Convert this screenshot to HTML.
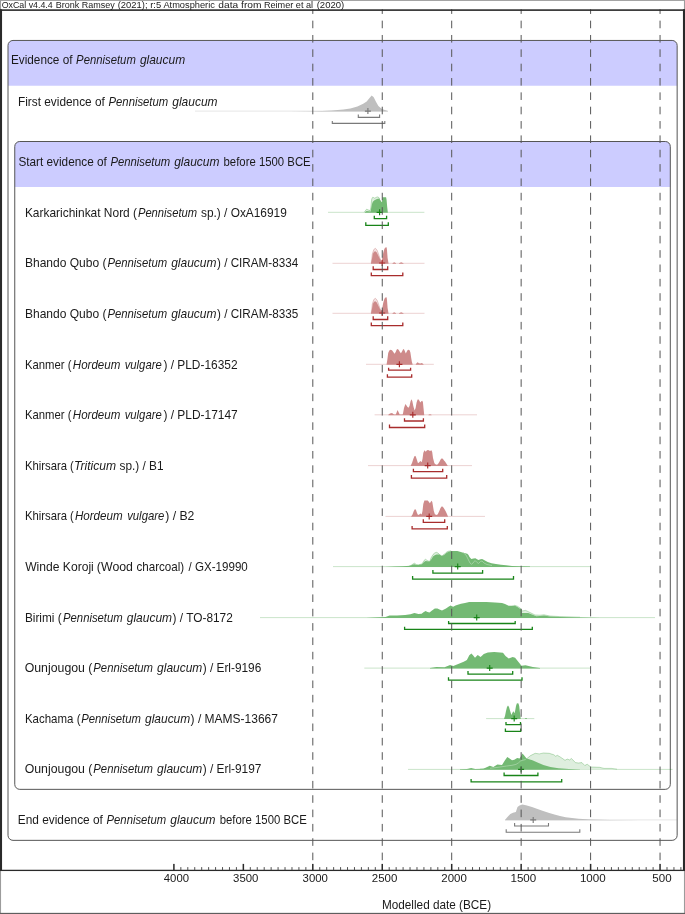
<!DOCTYPE html>
<html><head><meta charset="utf-8"><title>OxCal plot</title>
<style>html,body{margin:0;padding:0;background:#fff;overflow:hidden;width:685px;height:914px;}svg{display:block;will-change:transform;}text{font-family:"Liberation Sans",sans-serif;}</style>
</head><body>
<svg width="685" height="914" viewBox="0 0 685 914">
<rect x="0" y="0" width="685" height="914" fill="#fff"/>
<path d="M13.0,40.45 H672.15 A5,5 0 0 1 677.15,45.45 V85.75 H8.0 V45.45 A5,5 0 0 1 13.0,40.45 Z" fill="#ccccff"/>
<path d="M13.0,40.45 H672.15 A5,5 0 0 1 677.15,45.45 V835.35 A5,5 0 0 1 672.15,840.35 H13.0 A5,5 0 0 1 8.0,835.35 V45.45 A5,5 0 0 1 13.0,40.45 Z" fill="none" stroke="#555555" stroke-width="1"/>
<path d="M19.75,141.5 H665.3 A5,5 0 0 1 670.3,146.5 V186.95 H14.75 V146.5 A5,5 0 0 1 19.75,141.5 Z" fill="#ccccff"/>
<path d="M19.75,141.5 H665.3 A5,5 0 0 1 670.3,146.5 V784.35 A5,5 0 0 1 665.3,789.35 H19.75 A5,5 0 0 1 14.75,784.35 V146.5 A5,5 0 0 1 19.75,141.5 Z" fill="none" stroke="#555555" stroke-width="1"/>
<g>
<line x1="195.0" y1="111.10" x2="388.0" y2="111.10" stroke="rgb(139,139,139)" stroke-opacity="0.24" stroke-width="0.9"/>
<path d="M290.0,111.5 L290.0,111.5 L310.0,111.2 L322.0,110.9 L331.7,110.4 L343.4,109.6 L350.4,108.4 L357.4,106.5 L363.2,103.8 L366.7,101.4 L369.1,98.5 L371.7,95.6 L373.7,97.3 L376.1,102.0 L378.4,106.1 L381.9,109.0 L387.8,111.1 L387.8,111.5 Z" fill="rgb(191,191,191)"/>
<path d="M358.3,114.6 V117.4 H379.6 V114.6" fill="none" stroke="rgb(122,122,122)" stroke-width="1.1"/>
<path d="M332.3,120.9 V123.4 H384.8 V120.9" fill="none" stroke="rgb(122,122,122)" stroke-width="1.1"/>
<path d="M364.9,111.1 H370.9 M367.9,108.1 V114.1" fill="none" stroke="rgb(122,122,122)" stroke-width="1.15"/>
</g>
<g>
<line x1="328.0" y1="212.30" x2="424.4" y2="212.30" stroke="rgb(0,128,0)" stroke-opacity="0.24" stroke-width="0.9"/>
<path d="M364.3,212.3 L364.3,212.2 L365.5,210.5 L366.6,209.2 L368.0,209.8 L370.0,210.7 L370.8,208.0 L371.5,200.0 L372.2,197.8 L372.8,197.2 L374.8,198.2 L376.2,197.3 L377.6,196.9 L378.6,197.3 L379.4,198.2 L379.6,199.0 L379.6,212.3 Z" fill="rgb(222,238,222)"/>
<path d="M364.3,212.2 L365.5,210.5 L366.6,209.2 L368.0,209.8 L370.0,210.7 L370.8,208.0 L371.5,200.0 L372.2,197.8 L372.8,197.2 L374.8,198.2 L376.2,197.3 L377.6,196.9 L378.6,197.3 L379.4,198.2 L379.6,199.0" fill="none" stroke="rgb(0,128,0)" stroke-opacity="0.3" stroke-width="0.8"/>
<path d="M364.8,212.7 L364.8,212.2 L366.6,211.0 L368.5,211.3 L370.6,211.5 L371.2,208.0 L372.0,204.0 L372.8,201.8 L374.5,200.3 L376.9,198.9 L379.2,198.4 L380.3,200.0 L381.7,202.3 L382.2,201.0 L382.4,197.2 L386.1,197.2 L386.6,200.0 L387.2,207.0 L387.8,212.2 L387.8,212.7 Z" fill="rgb(115,185,115)"/>
<path d="M374.3,215.7 V218.7 H386.6 V215.7" fill="none" stroke="rgb(24,132,24)" stroke-width="1.3"/>
<path d="M365.8,222.2 V225.3 H388.3 V222.2" fill="none" stroke="rgb(24,132,24)" stroke-width="1.3"/>
<path d="M376.6,212.3 H382.6 M379.6,209.3 V215.3" fill="none" stroke="rgb(24,132,24)" stroke-width="1.15"/>
</g>
<g>
<line x1="332.5" y1="263.30" x2="424.5" y2="263.30" stroke="rgb(165,42,42)" stroke-opacity="0.24" stroke-width="0.9"/>
<path d="M371.3,263.3 L371.3,263.0 L372.3,254.0 L373.8,249.5 L375.4,248.3 L377.0,250.0 L378.5,254.0 L380.0,258.5 L381.5,261.4 L381.5,263.3 Z" fill="rgb(243,227,227)"/>
<path d="M371.3,263.0 L372.3,254.0 L373.8,249.5 L375.4,248.3 L377.0,250.0 L378.5,254.0 L380.0,258.5 L381.5,261.4" fill="none" stroke="rgb(165,42,42)" stroke-opacity="0.3" stroke-width="0.8"/>
<path d="M371.0,263.7 L371.0,263.3 L371.8,260.0 L372.8,254.0 L374.0,251.8 L375.4,251.3 L376.8,252.5 L378.0,255.0 L379.5,258.0 L380.8,260.5 L381.5,261.4 L382.3,258.0 L383.2,253.0 L384.2,249.5 L385.0,247.8 L386.6,247.2 L387.0,250.0 L387.6,258.0 L388.5,263.3 L388.5,263.7 Z" fill="rgb(206,138,138)"/>
<path d="M392.5,263.7 L392.5,263.3 L394.2,262.2 L396.0,263.3 L396.0,263.7 Z" fill="rgb(206,138,138)"/>
<path d="M399.0,263.7 L399.0,263.3 L401.2,262.3 L403.5,263.3 L403.5,263.7 Z" fill="rgb(206,138,138)"/>
<path d="M373.2,266.2 V269.5 H387.7 V266.2" fill="none" stroke="rgb(168,44,44)" stroke-width="1.3"/>
<path d="M371.3,272.6 V275.6 H402.8 V272.6" fill="none" stroke="rgb(168,44,44)" stroke-width="1.3"/>
<path d="M379.2,263.0 H385.2 M382.2,260.0 V266.0" fill="none" stroke="rgb(168,44,44)" stroke-width="1.15"/>
</g>
<g>
<line x1="332.5" y1="313.30" x2="424.5" y2="313.30" stroke="rgb(165,42,42)" stroke-opacity="0.24" stroke-width="0.9"/>
<path d="M371.3,313.3 L371.3,313.0 L372.3,304.0 L373.8,299.5 L375.4,298.3 L377.0,300.0 L378.5,304.0 L380.0,308.5 L381.5,311.4 L381.5,313.3 Z" fill="rgb(243,227,227)"/>
<path d="M371.3,313.0 L372.3,304.0 L373.8,299.5 L375.4,298.3 L377.0,300.0 L378.5,304.0 L380.0,308.5 L381.5,311.4" fill="none" stroke="rgb(165,42,42)" stroke-opacity="0.3" stroke-width="0.8"/>
<path d="M371.0,313.7 L371.0,313.3 L371.8,310.0 L372.8,304.0 L374.0,301.8 L375.4,301.3 L376.8,302.5 L378.0,305.0 L379.5,308.0 L380.8,310.5 L381.5,311.4 L382.3,308.0 L383.2,303.0 L384.2,299.5 L385.0,297.8 L386.6,297.2 L387.0,300.0 L387.6,308.0 L388.5,313.3 L388.5,313.7 Z" fill="rgb(206,138,138)"/>
<path d="M392.5,313.7 L392.5,313.3 L394.2,312.2 L396.0,313.3 L396.0,313.7 Z" fill="rgb(206,138,138)"/>
<path d="M399.0,313.7 L399.0,313.3 L401.2,312.3 L403.5,313.3 L403.5,313.7 Z" fill="rgb(206,138,138)"/>
<path d="M373.2,316.2 V319.5 H387.7 V316.2" fill="none" stroke="rgb(168,44,44)" stroke-width="1.3"/>
<path d="M371.3,322.6 V325.6 H402.8 V322.6" fill="none" stroke="rgb(168,44,44)" stroke-width="1.3"/>
<path d="M379.2,313.0 H385.2 M382.2,310.0 V316.0" fill="none" stroke="rgb(168,44,44)" stroke-width="1.15"/>
</g>
<g>
<line x1="366.0" y1="364.30" x2="433.8" y2="364.30" stroke="rgb(165,42,42)" stroke-opacity="0.24" stroke-width="0.9"/>
<path d="M386.6,364.7 L386.6,364.3 L387.3,360.0 L388.2,353.0 L389.3,350.5 L390.6,349.7 L392.0,350.3 L393.3,352.0 L394.5,353.8 L395.7,352.0 L396.6,349.8 L397.4,349.1 L398.6,349.8 L399.8,351.8 L400.9,353.2 L402.0,351.5 L403.0,349.5 L403.8,349.1 L404.8,351.0 L405.8,353.5 L406.8,351.5 L407.7,350.0 L408.5,349.7 L409.6,350.2 L410.4,352.5 L411.2,358.0 L411.9,362.0 L412.6,364.3 L412.6,364.7 Z" fill="rgb(206,138,138)"/>
<path d="M415.8,364.7 L415.8,364.3 L417.0,362.8 L417.8,362.2 L418.8,363.2 L420.5,363.5 L421.9,363.0 L423.5,364.3 L423.5,364.7 Z" fill="rgb(206,138,138)"/>
<path d="M388.6,367.8 V370.1 H410.6 V367.8" fill="none" stroke="rgb(168,44,44)" stroke-width="1.3"/>
<path d="M387.4,374.2 V377.1 H411.7 V374.2" fill="none" stroke="rgb(168,44,44)" stroke-width="1.3"/>
<path d="M396.4,364.3 H402.4 M399.4,361.3 V367.3" fill="none" stroke="rgb(168,44,44)" stroke-width="1.15"/>
</g>
<g>
<line x1="374.6" y1="414.80" x2="477.0" y2="414.80" stroke="rgb(165,42,42)" stroke-opacity="0.24" stroke-width="0.9"/>
<path d="M388.3,415.2 L388.3,414.8 L390.0,413.6 L392.0,413.1 L394.0,414.4 L395.8,414.6 L396.6,412.5 L397.5,410.0 L398.5,412.0 L399.7,414.6 L402.6,414.6 L403.0,413.5 L404.0,408.0 L405.4,403.9 L406.5,405.5 L407.5,407.0 L408.5,407.8 L409.5,406.0 L410.5,401.5 L411.4,399.3 L412.3,401.0 L413.3,406.0 L414.6,410.5 L415.6,408.0 L416.6,402.5 L417.5,399.8 L418.1,399.3 L419.0,400.0 L420.3,402.6 L421.3,401.2 L422.2,400.8 L422.9,402.0 L423.5,408.0 L424.2,414.8 L424.2,415.2 Z" fill="rgb(206,138,138)"/>
<path d="M428.5,415.2 L428.5,414.8 L430.0,414.2 L431.5,414.8 L431.5,415.2 Z" fill="rgb(206,138,138)"/>
<path d="M404.5,418.3 V421.0 H423.4 V418.3" fill="none" stroke="rgb(168,44,44)" stroke-width="1.3"/>
<path d="M389.5,424.5 V427.5 H424.7 V424.5" fill="none" stroke="rgb(168,44,44)" stroke-width="1.3"/>
<path d="M409.8,414.8 H415.8 M412.8,411.8 V417.8" fill="none" stroke="rgb(168,44,44)" stroke-width="1.15"/>
</g>
<g>
<line x1="368.0" y1="465.60" x2="472.0" y2="465.60" stroke="rgb(165,42,42)" stroke-opacity="0.24" stroke-width="0.9"/>
<path d="M410.8,466.0 L410.8,465.6 L412.0,463.0 L413.3,459.0 L414.3,456.5 L415.0,455.8 L415.8,456.5 L416.8,459.5 L418.0,463.2 L419.2,462.3 L420.4,461.0 L421.2,461.8 L421.7,462.3 L422.5,459.0 L423.3,453.0 L424.4,450.3 L425.7,451.8 L427.0,450.3 L428.1,450.0 L429.2,450.6 L430.0,451.0 L431.4,450.3 L432.2,452.0 L433.0,458.0 L434.4,463.2 L435.8,464.4 L437.0,464.8 L438.0,464.0 L439.3,462.0 L440.6,459.5 L441.9,458.2 L443.0,459.0 L444.0,460.5 L445.0,461.5 L446.3,463.5 L447.6,465.6 L447.6,466.0 Z" fill="rgb(206,138,138)"/>
<path d="M413.4,468.7 V471.7 H442.7 V468.7" fill="none" stroke="rgb(168,44,44)" stroke-width="1.3"/>
<path d="M411.4,475.0 V478.1 H446.7 V475.0" fill="none" stroke="rgb(168,44,44)" stroke-width="1.3"/>
<path d="M424.7,465.6 H430.7 M427.7,462.6 V468.6" fill="none" stroke="rgb(168,44,44)" stroke-width="1.15"/>
</g>
<g>
<line x1="385.5" y1="516.40" x2="485.0" y2="516.40" stroke="rgb(165,42,42)" stroke-opacity="0.24" stroke-width="0.9"/>
<path d="M411.2,516.8 L411.2,516.4 L412.5,514.5 L413.8,511.0 L415.0,509.0 L416.0,510.0 L417.0,513.0 L418.0,515.0 L419.3,514.4 L420.4,513.6 L421.7,514.6 L422.5,511.0 L423.3,504.0 L424.4,500.6 L426.0,500.5 L427.8,500.4 L428.8,501.8 L429.9,503.3 L430.8,501.8 L431.6,500.8 L432.3,502.0 L432.8,505.0 L433.8,511.0 L434.9,514.2 L436.0,514.8 L437.0,515.0 L438.0,513.8 L439.3,511.0 L440.5,508.0 L441.9,506.3 L443.0,507.0 L444.2,508.8 L445.4,510.7 L446.5,513.0 L448.0,516.4 L448.0,516.8 Z" fill="rgb(206,138,138)"/>
<path d="M423.3,519.2 V522.4 H444.7 V519.2" fill="none" stroke="rgb(168,44,44)" stroke-width="1.3"/>
<path d="M412.1,525.9 V528.8 H447.3 V525.9" fill="none" stroke="rgb(168,44,44)" stroke-width="1.3"/>
<path d="M426.2,516.4 H432.2 M429.2,513.4 V519.4" fill="none" stroke="rgb(168,44,44)" stroke-width="1.15"/>
</g>
<g>
<line x1="333.0" y1="566.60" x2="590.5" y2="566.60" stroke="rgb(0,128,0)" stroke-opacity="0.24" stroke-width="0.9"/>
<path d="M409.0,566.6 L409.0,566.2 L411.5,565.0 L414.3,563.2 L416.5,564.5 L418.4,564.8 L420.5,564.3 L422.0,564.0 L424.0,560.5 L425.5,559.3 L427.3,560.5 L429.6,561.5 L431.0,558.0 L433.0,554.5 L434.7,553.0 L436.3,552.3 L438.0,553.0 L439.3,554.3 L441.9,556.1 L444.0,554.5 L446.0,552.5 L448.0,551.3 L451.1,550.8 L451.1,566.6 Z" fill="rgb(222,238,222)"/>
<path d="M409.0,566.2 L411.5,565.0 L414.3,563.2 L416.5,564.5 L418.4,564.8 L420.5,564.3 L422.0,564.0 L424.0,560.5 L425.5,559.3 L427.3,560.5 L429.6,561.5 L431.0,558.0 L433.0,554.5 L434.7,553.0 L436.3,552.3 L438.0,553.0 L439.3,554.3 L441.9,556.1 L444.0,554.5 L446.0,552.5 L448.0,551.3 L451.1,550.8" fill="none" stroke="rgb(0,128,0)" stroke-opacity="0.3" stroke-width="0.8"/>
<path d="M385.0,567.0 L385.0,567.0 L395.0,566.6 L403.0,566.3 L410.2,565.8 L412.5,564.8 L414.3,564.2 L416.5,564.9 L418.4,565.0 L420.5,564.5 L422.0,564.2 L424.0,562.0 L425.5,561.0 L427.5,561.3 L429.6,561.5 L431.5,559.0 L433.0,556.5 L434.7,555.2 L436.5,554.5 L439.3,554.6 L441.9,556.1 L444.0,555.0 L446.0,553.3 L448.0,552.0 L451.1,551.0 L457.2,551.0 L460.0,551.8 L463.3,552.8 L467.3,553.8 L468.5,555.0 L469.5,557.0 L471.3,558.9 L473.5,558.4 L475.4,558.2 L477.0,559.2 L478.5,559.9 L480.5,559.2 L482.1,558.9 L484.5,560.3 L487.7,562.0 L491.5,563.2 L495.9,564.0 L501.0,564.8 L506.1,565.3 L512.0,565.9 L518.4,566.3 L530.0,566.6 L530.0,567.0 Z" fill="rgb(115,185,115)"/>
<path d="M463.3,552.8 L466.0,555.0 L468.0,559.0 L470.0,563.0 L471.5,564.3 L473.0,563.0 L475.0,560.5 L476.5,562.0 L478.5,563.5 L480.5,561.5 L482.0,561.0 L484.0,563.0 L487.0,564.5 L492.0,565.5" fill="none" stroke="rgb(163,209,163)" stroke-width="0.9"/>
<path d="M432.9,570.1 V573.2 H482.6 V570.1" fill="none" stroke="rgb(24,132,24)" stroke-width="1.3"/>
<path d="M412.6,576.0 V579.1 H513.5 V576.0" fill="none" stroke="rgb(24,132,24)" stroke-width="1.3"/>
<path d="M454.7,566.6 H460.7 M457.7,563.6 V569.6" fill="none" stroke="rgb(24,132,24)" stroke-width="1.15"/>
</g>
<g>
<line x1="260.0" y1="617.60" x2="655.0" y2="617.60" stroke="rgb(0,128,0)" stroke-opacity="0.24" stroke-width="0.9"/>
<path d="M514.5,617.6 L514.5,605.2 L517.5,606.3 L520.4,608.2 L521.8,611.0 L525.7,610.4 L530.0,612.5 L535.0,615.0 L540.0,615.2 L544.0,614.8 L550.0,616.0 L560.0,616.6 L580.0,617.2 L580.0,617.6 Z" fill="rgb(222,238,222)"/>
<path d="M514.5,605.2 L517.5,606.3 L520.4,608.2 L521.8,611.0 L525.7,610.4 L530.0,612.5 L535.0,615.0 L540.0,615.2 L544.0,614.8 L550.0,616.0 L560.0,616.6 L580.0,617.2" fill="none" stroke="rgb(0,128,0)" stroke-opacity="0.3" stroke-width="0.8"/>
<path d="M366.0,618.0 L366.0,618.0 L375.0,617.4 L385.5,616.9 L389.5,615.6 L397.0,615.4 L405.2,615.0 L410.5,614.3 L414.4,613.0 L416.5,613.6 L418.4,614.0 L421.6,613.7 L423.5,612.3 L425.6,611.0 L427.5,611.9 L429.5,612.6 L432.0,610.5 L434.8,608.4 L437.4,608.4 L439.5,609.5 L442.0,610.4 L444.0,609.5 L446.0,608.4 L448.5,606.8 L450.6,605.5 L452.0,606.3 L453.2,606.8 L455.5,605.5 L457.8,604.7 L461.0,603.8 L465.0,603.1 L469.2,602.1 L486.3,602.1 L495.0,602.4 L502.0,602.9 L505.0,604.0 L508.6,605.8 L511.5,605.7 L514.5,605.5 L517.5,607.0 L520.4,609.0 L521.8,609.8 L521.9,613.0 L528.3,613.0 L532.0,614.5 L536.2,616.3 L540.0,616.0 L544.0,615.6 L550.0,616.5 L560.0,617.0 L580.0,617.4 L600.0,617.9 L600.0,618.0 Z" fill="rgb(115,185,115)"/>
<path d="M448.6,620.9 V623.5 H515.2 V620.9" fill="none" stroke="rgb(24,132,24)" stroke-width="1.3"/>
<path d="M404.6,626.8 V629.4 H532.3 V626.8" fill="none" stroke="rgb(24,132,24)" stroke-width="1.3"/>
<path d="M473.7,617.6 H479.7 M476.7,614.6 V620.6" fill="none" stroke="rgb(24,132,24)" stroke-width="1.15"/>
</g>
<g>
<line x1="364.3" y1="668.10" x2="590.5" y2="668.10" stroke="rgb(0,128,0)" stroke-opacity="0.24" stroke-width="0.9"/>
<path d="M430.0,668.5 L430.0,668.0 L436.4,667.0 L444.5,667.3 L450.1,664.9 L453.3,666.0 L463.7,661.7 L466.9,660.1 L469.3,655.3 L471.4,653.6 L473.0,655.3 L475.0,657.7 L477.7,654.9 L480.6,656.9 L483.8,654.1 L487.8,652.5 L494.2,652.0 L503.0,652.8 L505.5,656.1 L508.7,658.5 L512.7,656.9 L515.1,657.7 L518.3,661.7 L521.5,665.7 L525.5,665.2 L532.8,667.0 L540.0,668.0 L540.0,668.5 Z" fill="rgb(115,185,115)"/>
<path d="M468.0,671.0 V674.2 H512.7 V671.0" fill="none" stroke="rgb(24,132,24)" stroke-width="1.3"/>
<path d="M448.5,677.2 V680.1 H522.0 V677.2" fill="none" stroke="rgb(24,132,24)" stroke-width="1.3"/>
<path d="M486.7,668.1 H492.7 M489.7,665.1 V671.1" fill="none" stroke="rgb(24,132,24)" stroke-width="1.15"/>
</g>
<g>
<line x1="486.1" y1="718.60" x2="534.3" y2="718.60" stroke="rgb(0,128,0)" stroke-opacity="0.24" stroke-width="0.9"/>
<path d="M504.1,719.0 L504.1,718.6 L505.0,716.0 L506.0,711.0 L507.0,707.0 L508.0,705.5 L509.0,707.0 L510.0,710.5 L511.4,715.1 L512.3,713.0 L513.3,711.3 L514.0,712.3 L514.6,713.3 L515.3,710.0 L516.0,706.0 L516.8,703.6 L517.5,703.3 L518.5,703.5 L519.2,706.0 L519.9,712.0 L520.7,718.6 L520.7,719.0 Z" fill="rgb(115,185,115)"/>
<path d="M525.0,719.0 L525.0,718.6 L526.0,718.0 L527.0,718.6 L527.0,719.0 Z" fill="rgb(115,185,115)"/>
<path d="M506.0,722.1 V724.7 H520.5 V722.1" fill="none" stroke="rgb(24,132,24)" stroke-width="1.3"/>
<path d="M505.4,728.5 V731.3 H520.7 V728.5" fill="none" stroke="rgb(24,132,24)" stroke-width="1.3"/>
<path d="M511.2,718.6 H517.2 M514.2,715.6 V721.6" fill="none" stroke="rgb(24,132,24)" stroke-width="1.15"/>
</g>
<g>
<line x1="408.0" y1="769.40" x2="672.6" y2="769.40" stroke="rgb(0,128,0)" stroke-opacity="0.24" stroke-width="0.9"/>
<path d="M480.0,769.4 L480.0,769.2 L490.0,768.3 L498.0,767.3 L506.7,766.0 L512.0,765.3 L516.0,764.4 L518.5,762.8 L520.7,760.9 L523.0,760.2 L525.8,759.5 L530.5,755.6 L535.2,753.3 L539.3,753.9 L543.4,753.0 L549.2,753.3 L553.9,754.8 L555.6,756.2 L557.4,755.3 L560.9,757.4 L565.0,760.3 L567.3,759.1 L569.6,759.9 L571.4,758.5 L575.5,762.6 L578.4,763.0 L581.9,762.6 L584.8,765.5 L587.2,764.2 L590.8,767.0 L599.6,767.3 L604.0,768.4 L611.3,768.4 L617.0,769.2 L617.0,769.4 Z" fill="rgb(222,238,222)"/>
<path d="M480.0,769.2 L490.0,768.3 L498.0,767.3 L506.7,766.0 L512.0,765.3 L516.0,764.4 L518.5,762.8 L520.7,760.9 L523.0,760.2 L525.8,759.5 L530.5,755.6 L535.2,753.3 L539.3,753.9 L543.4,753.0 L549.2,753.3 L553.9,754.8 L555.6,756.2 L557.4,755.3 L560.9,757.4 L565.0,760.3 L567.3,759.1 L569.6,759.9 L571.4,758.5 L575.5,762.6 L578.4,763.0 L581.9,762.6 L584.8,765.5 L587.2,764.2 L590.8,767.0 L599.6,767.3 L604.0,768.4 L611.3,768.4 L617.0,769.2" fill="none" stroke="rgb(0,128,0)" stroke-opacity="0.3" stroke-width="0.8"/>
<path d="M460.0,769.8 L460.0,769.2 L467.0,769.0 L471.1,768.1 L475.2,769.0 L483.4,768.8 L489.8,765.8 L493.3,766.9 L497.4,764.6 L502.0,765.0 L505.0,760.3 L507.3,757.1 L509.6,758.5 L512.0,760.3 L514.3,759.7 L517.2,757.9 L519.6,758.5 L522.5,753.6 L524.2,755.6 L526.6,758.5 L532.4,760.3 L537.5,762.6 L543.4,765.0 L550.4,767.0 L558.5,768.2 L569.0,769.0 L580.0,769.4 L580.0,769.8 Z" fill="rgb(115,185,115)"/>
<path d="M490.0,768.3 L498.0,767.3 L506.7,766.0 L512.0,765.3 L516.0,764.4 L518.5,762.8 L520.7,760.9 L523.0,760.2 L525.8,759.5" fill="none" stroke="rgb(163,209,163)" stroke-width="0.9"/>
<path d="M504.1,772.5 V775.5 H537.9 V772.5" fill="none" stroke="rgb(24,132,24)" stroke-width="1.3"/>
<path d="M471.1,779.0 V781.9 H561.7 V779.0" fill="none" stroke="rgb(24,132,24)" stroke-width="1.3"/>
<path d="M518.1,769.4 H524.1 M521.1,766.4 V772.4" fill="none" stroke="rgb(24,132,24)" stroke-width="1.15"/>
</g>
<g>
<line x1="505.0" y1="819.90" x2="677.0" y2="819.90" stroke="rgb(139,139,139)" stroke-opacity="0.24" stroke-width="0.9"/>
<path d="M505.0,820.3 L505.0,819.9 L507.0,817.5 L510.3,814.0 L513.0,812.8 L515.9,811.9 L516.5,810.0 L517.5,807.0 L519.5,805.5 L522.3,804.6 L526.0,805.3 L532.0,807.0 L537.5,809.0 L543.2,811.0 L548.5,812.8 L554.4,814.6 L560.0,816.0 L565.7,817.2 L572.0,818.1 L578.5,818.8 L591.4,819.5 L610.0,819.9 L640.0,820.2 L640.0,820.3 Z" fill="rgb(191,191,191)"/>
<path d="M514.6,823.1 V826.0 H548.5 V823.1" fill="none" stroke="rgb(122,122,122)" stroke-width="1.1"/>
<path d="M506.2,829.2 V832.3 H579.8 V829.2" fill="none" stroke="rgb(122,122,122)" stroke-width="1.1"/>
<path d="M530.2,819.9 H536.2 M533.2,816.9 V822.9" fill="none" stroke="rgb(122,122,122)" stroke-width="1.15"/>
</g>
<line x1="312.80" y1="6.31" x2="312.80" y2="864" stroke="#565656" stroke-width="1" stroke-dasharray="7.6 6.744"/>
<line x1="382.25" y1="6.31" x2="382.25" y2="864" stroke="#565656" stroke-width="1" stroke-dasharray="7.6 6.744"/>
<line x1="451.70" y1="6.31" x2="451.70" y2="864" stroke="#565656" stroke-width="1" stroke-dasharray="7.6 6.744"/>
<line x1="521.15" y1="6.31" x2="521.15" y2="864" stroke="#565656" stroke-width="1" stroke-dasharray="7.6 6.744"/>
<line x1="590.60" y1="6.31" x2="590.60" y2="864" stroke="#565656" stroke-width="1" stroke-dasharray="7.6 6.744"/>
<line x1="660.05" y1="6.31" x2="660.05" y2="864" stroke="#565656" stroke-width="1" stroke-dasharray="7.6 6.744"/>
<rect x="0" y="0" width="685" height="9.3" fill="#fff"/>
<rect x="0" y="0" width="685" height="0.95" fill="#a0a0a0"/>
<rect x="0" y="0" width="1.05" height="914" fill="#9c9c9c"/>
<rect x="683.95" y="0" width="1.05" height="914" fill="#9c9c9c"/>
<rect x="0" y="912.85" width="685" height="1.15" fill="#5e5e5e"/>
<rect x="0" y="9.3" width="685" height="1.6" fill="#2a2a2a"/>
<rect x="0" y="9.3" width="2.05" height="861.5" fill="#2a2a2a"/>
<rect x="682.95" y="9.3" width="2.05" height="861.5" fill="#2a2a2a"/>
<rect x="0" y="869.75" width="685" height="1.3" fill="#2a2a2a"/>
<rect x="173.15" y="863.9" width="1.5" height="6.3" fill="#2a2a2a"/>
<rect x="180.34" y="867.1" width="1" height="3" fill="#505050"/>
<rect x="187.29" y="867.1" width="1" height="3" fill="#505050"/>
<rect x="194.24" y="867.1" width="1" height="3" fill="#505050"/>
<rect x="201.18" y="867.1" width="1" height="3" fill="#505050"/>
<rect x="208.12" y="867.1" width="1" height="3" fill="#505050"/>
<rect x="215.07" y="867.1" width="1" height="3" fill="#505050"/>
<rect x="222.02" y="867.1" width="1" height="3" fill="#505050"/>
<rect x="228.96" y="867.1" width="1" height="3" fill="#505050"/>
<rect x="235.91" y="867.1" width="1" height="3" fill="#505050"/>
<rect x="242.60" y="863.9" width="1.5" height="6.3" fill="#2a2a2a"/>
<rect x="249.80" y="867.1" width="1" height="3" fill="#505050"/>
<rect x="256.74" y="867.1" width="1" height="3" fill="#505050"/>
<rect x="263.69" y="867.1" width="1" height="3" fill="#505050"/>
<rect x="270.63" y="867.1" width="1" height="3" fill="#505050"/>
<rect x="277.57" y="867.1" width="1" height="3" fill="#505050"/>
<rect x="284.52" y="867.1" width="1" height="3" fill="#505050"/>
<rect x="291.47" y="867.1" width="1" height="3" fill="#505050"/>
<rect x="298.41" y="867.1" width="1" height="3" fill="#505050"/>
<rect x="305.36" y="867.1" width="1" height="3" fill="#505050"/>
<rect x="312.05" y="863.9" width="1.5" height="6.3" fill="#2a2a2a"/>
<rect x="319.25" y="867.1" width="1" height="3" fill="#505050"/>
<rect x="326.19" y="867.1" width="1" height="3" fill="#505050"/>
<rect x="333.13" y="867.1" width="1" height="3" fill="#505050"/>
<rect x="340.08" y="867.1" width="1" height="3" fill="#505050"/>
<rect x="347.02" y="867.1" width="1" height="3" fill="#505050"/>
<rect x="353.97" y="867.1" width="1" height="3" fill="#505050"/>
<rect x="360.91" y="867.1" width="1" height="3" fill="#505050"/>
<rect x="367.86" y="867.1" width="1" height="3" fill="#505050"/>
<rect x="374.81" y="867.1" width="1" height="3" fill="#505050"/>
<rect x="381.50" y="863.9" width="1.5" height="6.3" fill="#2a2a2a"/>
<rect x="388.69" y="867.1" width="1" height="3" fill="#505050"/>
<rect x="395.64" y="867.1" width="1" height="3" fill="#505050"/>
<rect x="402.59" y="867.1" width="1" height="3" fill="#505050"/>
<rect x="409.53" y="867.1" width="1" height="3" fill="#505050"/>
<rect x="416.48" y="867.1" width="1" height="3" fill="#505050"/>
<rect x="423.42" y="867.1" width="1" height="3" fill="#505050"/>
<rect x="430.37" y="867.1" width="1" height="3" fill="#505050"/>
<rect x="437.31" y="867.1" width="1" height="3" fill="#505050"/>
<rect x="444.25" y="867.1" width="1" height="3" fill="#505050"/>
<rect x="450.95" y="863.9" width="1.5" height="6.3" fill="#2a2a2a"/>
<rect x="458.14" y="867.1" width="1" height="3" fill="#505050"/>
<rect x="465.09" y="867.1" width="1" height="3" fill="#505050"/>
<rect x="472.03" y="867.1" width="1" height="3" fill="#505050"/>
<rect x="478.98" y="867.1" width="1" height="3" fill="#505050"/>
<rect x="485.92" y="867.1" width="1" height="3" fill="#505050"/>
<rect x="492.87" y="867.1" width="1" height="3" fill="#505050"/>
<rect x="499.81" y="867.1" width="1" height="3" fill="#505050"/>
<rect x="506.76" y="867.1" width="1" height="3" fill="#505050"/>
<rect x="513.71" y="867.1" width="1" height="3" fill="#505050"/>
<rect x="520.40" y="863.9" width="1.5" height="6.3" fill="#2a2a2a"/>
<rect x="527.60" y="867.1" width="1" height="3" fill="#505050"/>
<rect x="534.54" y="867.1" width="1" height="3" fill="#505050"/>
<rect x="541.49" y="867.1" width="1" height="3" fill="#505050"/>
<rect x="548.43" y="867.1" width="1" height="3" fill="#505050"/>
<rect x="555.38" y="867.1" width="1" height="3" fill="#505050"/>
<rect x="562.32" y="867.1" width="1" height="3" fill="#505050"/>
<rect x="569.26" y="867.1" width="1" height="3" fill="#505050"/>
<rect x="576.21" y="867.1" width="1" height="3" fill="#505050"/>
<rect x="583.15" y="867.1" width="1" height="3" fill="#505050"/>
<rect x="589.85" y="863.9" width="1.5" height="6.3" fill="#2a2a2a"/>
<rect x="597.04" y="867.1" width="1" height="3" fill="#505050"/>
<rect x="603.99" y="867.1" width="1" height="3" fill="#505050"/>
<rect x="610.93" y="867.1" width="1" height="3" fill="#505050"/>
<rect x="617.88" y="867.1" width="1" height="3" fill="#505050"/>
<rect x="624.83" y="867.1" width="1" height="3" fill="#505050"/>
<rect x="631.77" y="867.1" width="1" height="3" fill="#505050"/>
<rect x="638.72" y="867.1" width="1" height="3" fill="#505050"/>
<rect x="645.66" y="867.1" width="1" height="3" fill="#505050"/>
<rect x="652.61" y="867.1" width="1" height="3" fill="#505050"/>
<rect x="659.30" y="863.9" width="1.5" height="6.3" fill="#2a2a2a"/>
<rect x="666.50" y="867.1" width="1" height="3" fill="#505050"/>
<rect x="673.44" y="867.1" width="1" height="3" fill="#505050"/>
<rect x="680.38" y="867.1" width="1" height="3" fill="#505050"/>
<text x="1.63" y="8.05" font-size="9.6" fill="#1a1a1a" textLength="51.09" lengthAdjust="spacingAndGlyphs">OxCal v4.4.4</text>
<text x="55.74" y="8.05" font-size="9.6" fill="#1a1a1a" textLength="58.96" lengthAdjust="spacingAndGlyphs">Bronk Ramsey</text>
<text x="117.71" y="8.05" font-size="9.6" fill="#1a1a1a" textLength="43.42" lengthAdjust="spacingAndGlyphs">(2021); r:5</text>
<text x="163.40" y="8.05" font-size="9.6" fill="#1a1a1a" textLength="51.49" lengthAdjust="spacingAndGlyphs">Atmospheric</text>
<text x="218.38" y="8.05" font-size="9.6" fill="#1a1a1a" textLength="43.06" lengthAdjust="spacingAndGlyphs">data from</text>
<text x="263.93" y="8.05" font-size="9.6" fill="#1a1a1a" textLength="49.17" lengthAdjust="spacingAndGlyphs">Reimer et al</text>
<text x="316.70" y="8.05" font-size="9.6" fill="#1a1a1a" textLength="27.59" lengthAdjust="spacingAndGlyphs">(2020)</text>
<text x="10.93" y="64.40" font-size="12.2" fill="#1a1a1a" textLength="61.56" lengthAdjust="spacingAndGlyphs">Evidence of</text>
<text x="76.12" y="64.40" font-size="12.2" font-style="italic" fill="#1a1a1a" textLength="59.70" lengthAdjust="spacingAndGlyphs">Pennisetum</text>
<text x="139.90" y="64.40" font-size="12.2" font-style="italic" fill="#1a1a1a" textLength="45.25" lengthAdjust="spacingAndGlyphs">glaucum</text>
<text x="17.93" y="105.50" font-size="12.2" fill="#1a1a1a" textLength="86.96" lengthAdjust="spacingAndGlyphs">First evidence of</text>
<text x="108.52" y="105.50" font-size="12.2" font-style="italic" fill="#1a1a1a" textLength="59.70" lengthAdjust="spacingAndGlyphs">Pennisetum</text>
<text x="172.30" y="105.50" font-size="12.2" font-style="italic" fill="#1a1a1a" textLength="45.25" lengthAdjust="spacingAndGlyphs">glaucum</text>
<text x="18.42" y="165.60" font-size="12.2" fill="#1a1a1a" textLength="88.38" lengthAdjust="spacingAndGlyphs">Start evidence of</text>
<text x="110.42" y="165.60" font-size="12.2" font-style="italic" fill="#1a1a1a" textLength="59.70" lengthAdjust="spacingAndGlyphs">Pennisetum</text>
<text x="174.20" y="165.60" font-size="12.2" font-style="italic" fill="#1a1a1a" textLength="45.25" lengthAdjust="spacingAndGlyphs">glaucum</text>
<text x="223.55" y="165.60" font-size="12.2" fill="#1a1a1a" textLength="87.16" lengthAdjust="spacingAndGlyphs">before 1500 BCE</text>
<text x="24.92" y="216.90" font-size="12.2" fill="#1a1a1a" textLength="112.14" lengthAdjust="spacingAndGlyphs">Karkarichinkat Nord (</text>
<text x="137.92" y="216.90" font-size="12.2" font-style="italic" fill="#1a1a1a" textLength="59.19" lengthAdjust="spacingAndGlyphs">Pennisetum</text>
<text x="201.01" y="216.90" font-size="12.2" fill="#1a1a1a" textLength="85.76" lengthAdjust="spacingAndGlyphs">sp.) / OxA16919</text>
<text x="24.91" y="267.48" font-size="12.2" fill="#1a1a1a" textLength="81.65" lengthAdjust="spacingAndGlyphs">Bhando Qubo (</text>
<text x="107.42" y="267.48" font-size="12.2" font-style="italic" fill="#1a1a1a" textLength="59.70" lengthAdjust="spacingAndGlyphs">Pennisetum</text>
<text x="171.20" y="267.48" font-size="12.2" font-style="italic" fill="#1a1a1a" textLength="45.25" lengthAdjust="spacingAndGlyphs">glaucum</text>
<text x="217.00" y="267.48" font-size="12.2" fill="#1a1a1a" textLength="81.17" lengthAdjust="spacingAndGlyphs">) / CIRAM-8334</text>
<text x="24.91" y="318.06" font-size="12.2" fill="#1a1a1a" textLength="81.65" lengthAdjust="spacingAndGlyphs">Bhando Qubo (</text>
<text x="107.42" y="318.06" font-size="12.2" font-style="italic" fill="#1a1a1a" textLength="59.70" lengthAdjust="spacingAndGlyphs">Pennisetum</text>
<text x="171.20" y="318.06" font-size="12.2" font-style="italic" fill="#1a1a1a" textLength="45.25" lengthAdjust="spacingAndGlyphs">glaucum</text>
<text x="217.00" y="318.06" font-size="12.2" fill="#1a1a1a" textLength="81.37" lengthAdjust="spacingAndGlyphs">) / CIRAM-8335</text>
<text x="24.97" y="368.64" font-size="12.2" fill="#1a1a1a" textLength="46.48" lengthAdjust="spacingAndGlyphs">Kanmer (</text>
<text x="72.82" y="368.64" font-size="12.2" font-style="italic" fill="#1a1a1a" textLength="47.52" lengthAdjust="spacingAndGlyphs">Hordeum</text>
<text x="124.64" y="368.64" font-size="12.2" font-style="italic" fill="#1a1a1a" textLength="37.11" lengthAdjust="spacingAndGlyphs">vulgare</text>
<text x="163.40" y="368.64" font-size="12.2" fill="#1a1a1a" textLength="74.17" lengthAdjust="spacingAndGlyphs">) / PLD-16352</text>
<text x="24.97" y="419.22" font-size="12.2" fill="#1a1a1a" textLength="46.48" lengthAdjust="spacingAndGlyphs">Kanmer (</text>
<text x="72.82" y="419.22" font-size="12.2" font-style="italic" fill="#1a1a1a" textLength="47.52" lengthAdjust="spacingAndGlyphs">Hordeum</text>
<text x="124.64" y="419.22" font-size="12.2" font-style="italic" fill="#1a1a1a" textLength="37.11" lengthAdjust="spacingAndGlyphs">vulgare</text>
<text x="163.40" y="419.22" font-size="12.2" fill="#1a1a1a" textLength="74.37" lengthAdjust="spacingAndGlyphs">) / PLD-17147</text>
<text x="24.98" y="469.80" font-size="12.2" fill="#1a1a1a" textLength="48.88" lengthAdjust="spacingAndGlyphs">Khirsara (</text>
<text x="74.01" y="469.80" font-size="12.2" font-style="italic" fill="#1a1a1a" textLength="42.15" lengthAdjust="spacingAndGlyphs">Triticum</text>
<text x="119.51" y="469.80" font-size="12.2" fill="#1a1a1a" textLength="44.06" lengthAdjust="spacingAndGlyphs">sp.) / B1</text>
<text x="24.98" y="520.38" font-size="12.2" fill="#1a1a1a" textLength="48.88" lengthAdjust="spacingAndGlyphs">Khirsara (</text>
<text x="74.91" y="520.38" font-size="12.2" font-style="italic" fill="#1a1a1a" textLength="47.72" lengthAdjust="spacingAndGlyphs">Hordeum</text>
<text x="127.14" y="520.38" font-size="12.2" font-style="italic" fill="#1a1a1a" textLength="37.22" lengthAdjust="spacingAndGlyphs">vulgare</text>
<text x="165.20" y="520.38" font-size="12.2" fill="#1a1a1a" textLength="29.19" lengthAdjust="spacingAndGlyphs">) / B2</text>
<text x="25.20" y="570.96" font-size="12.2" fill="#1a1a1a" textLength="68.60" lengthAdjust="spacingAndGlyphs">Winde Koroji</text>
<text x="96.89" y="570.96" font-size="12.2" fill="#1a1a1a" textLength="36.10" lengthAdjust="spacingAndGlyphs">(Wood</text>
<text x="136.42" y="570.96" font-size="12.2" fill="#1a1a1a" textLength="47.81" lengthAdjust="spacingAndGlyphs">charcoal)</text>
<text x="188.60" y="570.96" font-size="12.2" fill="#1a1a1a" textLength="59.17" lengthAdjust="spacingAndGlyphs">/ GX-19990</text>
<text x="24.93" y="621.54" font-size="12.2" fill="#1a1a1a" textLength="36.73" lengthAdjust="spacingAndGlyphs">Birimi (</text>
<text x="63.02" y="621.54" font-size="12.2" font-style="italic" fill="#1a1a1a" textLength="59.70" lengthAdjust="spacingAndGlyphs">Pennisetum</text>
<text x="126.80" y="621.54" font-size="12.2" font-style="italic" fill="#1a1a1a" textLength="45.25" lengthAdjust="spacingAndGlyphs">glaucum</text>
<text x="172.60" y="621.54" font-size="12.2" fill="#1a1a1a" textLength="60.17" lengthAdjust="spacingAndGlyphs">) / TO-8172</text>
<text x="24.70" y="672.12" font-size="12.2" fill="#1a1a1a" textLength="67.77" lengthAdjust="spacingAndGlyphs">Ounjougou (</text>
<text x="93.32" y="672.12" font-size="12.2" font-style="italic" fill="#1a1a1a" textLength="59.70" lengthAdjust="spacingAndGlyphs">Pennisetum</text>
<text x="157.10" y="672.12" font-size="12.2" font-style="italic" fill="#1a1a1a" textLength="45.25" lengthAdjust="spacingAndGlyphs">glaucum</text>
<text x="202.70" y="672.12" font-size="12.2" fill="#1a1a1a" textLength="58.57" lengthAdjust="spacingAndGlyphs">) / Erl-9196</text>
<text x="24.96" y="722.70" font-size="12.2" fill="#1a1a1a" textLength="55.50" lengthAdjust="spacingAndGlyphs">Kachama (</text>
<text x="81.22" y="722.70" font-size="12.2" font-style="italic" fill="#1a1a1a" textLength="59.70" lengthAdjust="spacingAndGlyphs">Pennisetum</text>
<text x="145.00" y="722.70" font-size="12.2" font-style="italic" fill="#1a1a1a" textLength="45.25" lengthAdjust="spacingAndGlyphs">glaucum</text>
<text x="190.60" y="722.70" font-size="12.2" fill="#1a1a1a" textLength="87.38" lengthAdjust="spacingAndGlyphs">) / MAMS-13667</text>
<text x="24.70" y="773.28" font-size="12.2" fill="#1a1a1a" textLength="67.77" lengthAdjust="spacingAndGlyphs">Ounjougou (</text>
<text x="93.32" y="773.28" font-size="12.2" font-style="italic" fill="#1a1a1a" textLength="59.70" lengthAdjust="spacingAndGlyphs">Pennisetum</text>
<text x="157.10" y="773.28" font-size="12.2" font-style="italic" fill="#1a1a1a" textLength="45.25" lengthAdjust="spacingAndGlyphs">glaucum</text>
<text x="202.70" y="773.28" font-size="12.2" fill="#1a1a1a" textLength="58.67" lengthAdjust="spacingAndGlyphs">) / Erl-9197</text>
<text x="17.73" y="824.10" font-size="12.2" fill="#1a1a1a" textLength="85.17" lengthAdjust="spacingAndGlyphs">End evidence of</text>
<text x="106.52" y="824.10" font-size="12.2" font-style="italic" fill="#1a1a1a" textLength="59.70" lengthAdjust="spacingAndGlyphs">Pennisetum</text>
<text x="170.30" y="824.10" font-size="12.2" font-style="italic" fill="#1a1a1a" textLength="45.25" lengthAdjust="spacingAndGlyphs">glaucum</text>
<text x="219.65" y="824.10" font-size="12.2" fill="#1a1a1a" textLength="87.16" lengthAdjust="spacingAndGlyphs">before 1500 BCE</text>
<text x="163.78" y="881.60" font-size="10.4" fill="#1a1a1a" textLength="25.24" lengthAdjust="spacingAndGlyphs">4000</text>
<text x="233.12" y="881.60" font-size="10.4" fill="#1a1a1a" textLength="25.35" lengthAdjust="spacingAndGlyphs">3500</text>
<text x="302.57" y="881.60" font-size="10.4" fill="#1a1a1a" textLength="25.35" lengthAdjust="spacingAndGlyphs">3000</text>
<text x="371.80" y="881.60" font-size="10.4" fill="#1a1a1a" textLength="25.58" lengthAdjust="spacingAndGlyphs">2500</text>
<text x="441.25" y="881.60" font-size="10.4" fill="#1a1a1a" textLength="25.58" lengthAdjust="spacingAndGlyphs">2000</text>
<text x="510.47" y="881.60" font-size="10.4" fill="#1a1a1a" textLength="25.81" lengthAdjust="spacingAndGlyphs">1500</text>
<text x="579.92" y="881.60" font-size="10.4" fill="#1a1a1a" textLength="25.81" lengthAdjust="spacingAndGlyphs">1000</text>
<text x="652.31" y="881.60" font-size="10.4" fill="#1a1a1a" textLength="19.27" lengthAdjust="spacingAndGlyphs">500</text>
<text x="381.94" y="908.70" font-size="12.2" fill="#1a1a1a" textLength="109.20" lengthAdjust="spacingAndGlyphs">Modelled date (BCE)</text>
</svg></body></html>
